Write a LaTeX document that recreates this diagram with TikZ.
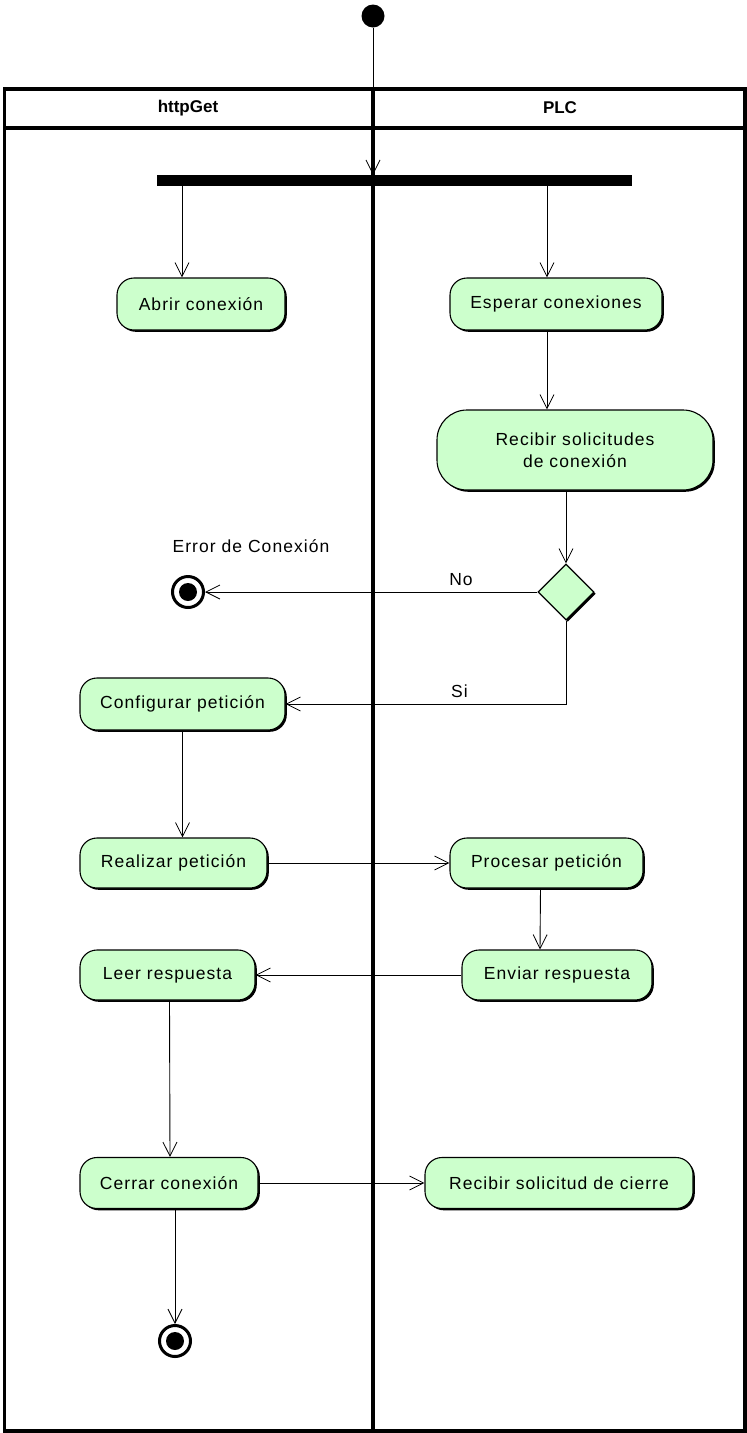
\documentclass[tikz,border=0pt]{standalone}
\usepackage{fontspec}
\setmainfont{Liberation Sans}
\newfontfamily\actfont[LetterSpace=6]{Liberation Sans}
\usetikzlibrary{arrows.meta,shapes.geometric,shadows,calc}
\definecolor{actfill}{RGB}{204,255,204}
\begin{document}
\begin{tikzpicture}[x=1pt,y=-1pt,
  act/.style={draw=black,line width=1.1pt,fill=actfill,rounded corners=17pt,
    font=\actfont\fontsize{17.5}{22}\selectfont,align=center,inner sep=0pt,
    drop shadow={shadow xshift=1.8pt,shadow yshift=-1.8pt,fill=black,opacity=1}},
  decision/.style={diamond,draw=black,line width=1.1pt,fill=actfill,aspect=1,
    minimum width=56pt,minimum height=56pt,inner sep=0pt,
    drop shadow={shadow xshift=1.8pt,shadow yshift=-1.8pt,fill=black,opacity=1}},
  flow/.style={line width=0.9pt,-{Straight Barb[length=14pt,width=14pt,line width=0.8pt]}},
  lane/.style={line width=3.5pt},
  finalnode/.style={circle,draw=black,line width=3pt,fill=white,minimum size=31pt,inner sep=0pt,
    path picture={\fill[black] (path picture bounding box.center) circle (9pt);}},
  lbl/.style={font=\actfont\fontsize{17.5}{21}\selectfont,inner sep=0pt},
  lanehead/.style={font=\fontsize{17}{19}\selectfont\bfseries,inner sep=0pt}
]
\useasboundingbox (0,0) rectangle (747,1433);

% swimlanes
\draw[lane] (4.5,89) rectangle (745,1431);
\draw[lane] (4.5,128) -- (745,128);
\draw[lane] (373,89) -- (373,1431);
\node[lanehead] (h1) at (188,108) {httpGet};
\node[lanehead] (h2) at (560,108) {PLC};

% start and fork
\node[circle,fill=black,minimum size=23pt,inner sep=0pt] (start) at (373,16) {};
\node[fill=black,minimum width=475pt,minimum height=11pt,inner sep=0pt] (fork) at (394.5,180.5) {};

% activities
\node[act,minimum width=168pt,minimum height=52pt] (abrir) at (201,304) {Abrir conexión};
\node[act,minimum width=212pt,minimum height=52pt] (esperar) at (556,304) {Esperar conexiones};
\node[act,minimum width=276pt,minimum height=80pt,rounded corners=30pt] (recibir) at (575,450) {Recibir solicitudes\\de conexión};
\node[decision] (dec) at (566,592) {};
\node[finalnode] (err) at (188,592) {};
\node[lbl] (errlbl) at (251,546) {Error de Conexión};
\node[act,minimum width=205pt,minimum height=52pt] (config) at (182.5,704) {Configurar petición};
\node[act,minimum width=187pt,minimum height=50pt] (realizar) at (173.5,863) {Realizar petición};
\node[act,minimum width=193pt,minimum height=50pt] (procesar) at (546.5,863) {Procesar petición};
\node[act,minimum width=190pt,minimum height=50pt] (enviar) at (557,975) {Enviar respuesta};
\node[act,minimum width=175pt,minimum height=50pt] (leer) at (167.5,975) {Leer respuesta};
\node[act,minimum width=178pt,minimum height=51pt] (cerrar) at (169,1183) {Cerrar conexión};
\node[act,minimum width=268pt,minimum height=51pt] (cierre) at (559,1183) {Recibir solicitud de cierre};
\node[finalnode] (fin) at (175,1341) {};

% attachment points on the node borders
\coordinate (abrirN) at ([xshift=-19pt]abrir.north);
\coordinate (esperarN) at ([xshift=-9pt]esperar.north);
\coordinate (esperarS) at ([xshift=-9pt]esperar.south);
\coordinate (recibirN) at ([xshift=-28pt]recibir.north);
\coordinate (recibirS) at ([xshift=-9pt]recibir.south);
\coordinate (configS) at (config.south);
\coordinate (realizarN) at ([xshift=9pt]realizar.north);
\coordinate (procesarS) at ([xshift=-6pt]procesar.south);
\coordinate (enviarN) at ([xshift=-17pt]enviar.north);
\coordinate (leerS) at ([xshift=2pt]leer.south);
\coordinate (cerrarN) at ([xshift=1pt]cerrar.north);
\coordinate (cerrarS) at ([xshift=6pt]cerrar.south);

% flows
\draw[flow] (start) -- (start |- fork.north);
\draw[flow] (fork.south -| abrirN) -- (abrirN);
\draw[flow] (fork.south -| esperarN) -- (esperarN);
\draw[flow] (esperarS) -- (recibirN);
\draw[flow] (recibirS) -- (dec.north);
\draw[flow] (dec.west) -- node[lbl,pos=0.23,above=6pt] {No} (err);
\draw[flow] (dec.south) |- node[lbl,pos=0.69,above=6pt] {Si} (config.east);
\draw[flow] (configS) -- (realizarN);
\draw[flow] (realizar.east) -- (procesar.west);
\draw[flow] (procesarS) -- (enviarN);
\draw[flow] (enviar.west) -- (leer.east);
\draw[flow] (leerS) -- (cerrarN);
\draw[flow] (cerrar.east) -- (cierre.west);
\draw[flow] (cerrarS) -- (fin);
\end{tikzpicture}
\end{document}
